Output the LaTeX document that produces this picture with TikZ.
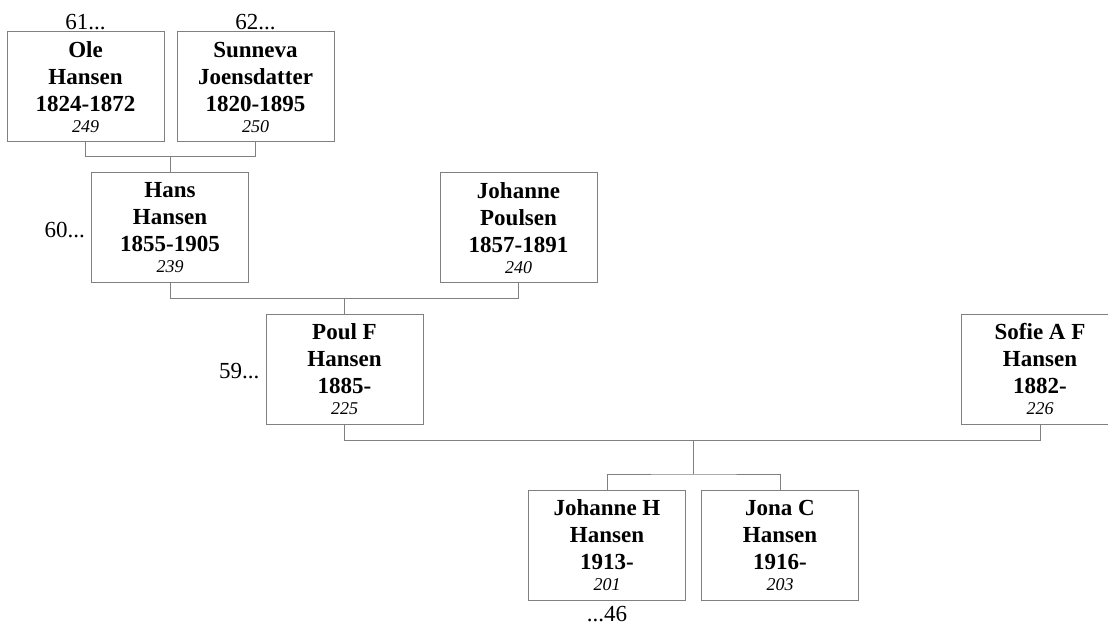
\documentclass[tikz,border=0pt]{standalone}
\usepackage{fontspec}
\setmainfont{Liberation Serif}
\usetikzlibrary{positioning,calc}
\definecolor{rammegraa}{HTML}{808080}
\tikzset{
  person/.style={draw=rammegraa, line width=1pt, minimum width=157pt, minimum height=110pt, inner sep=0pt, align=center, font=\fontsize{23}{27}\selectfont\bfseries},
  linje/.style={draw=rammegraa, line width=1pt},
  merke/.style={font=\fontsize{23}{27}\selectfont, inner sep=1pt},
}
\newcommand{\nr}[1]{\\[-6pt]{\fontsize{18}{21}\selectfont\mdseries\itshape #1}}

\begin{document}
\begin{tikzpicture}[x=1pt, y=-1pt]
  \useasboundingbox (0,0) rectangle (1108,628);
  % besteforeldre
  \node[person] (ole) at (85.5,87) {Ole\\Hansen\\1824-1872\nr{249}};
  \node[person] (sunneva) at (255.5,87) {Sunneva\\Joensdatter\\1820-1895\nr{250}};
  \node[merke, above=0pt of ole] (ole61) {61...};
  \node[merke, above=0pt of sunneva] (sun62) {62...};
  % foreldre
  \node[person] (hans) at (170,228) {Hans\\Hansen\\1855-1905\nr{239}};
  \node[person] (johanneP) at (518.5,228) {Johanne\\Poulsen\\1857-1891\nr{240}};
  \node[merke, left=5pt of hans, yshift=-2pt] (hans60) {60...};
  \node[person] (poul) at (344.5,369) {Poul F\\Hansen\\1885-\nr{225}};
  \node[person] (sofie) at (1040,369) {Sofie A F\\Hansen\\1882-\nr{226}};
  \node[merke, left=5pt of poul, yshift=-2pt] (poul59) {59...};
  % barn
  \node[person] (johanneH) at (607,545.5) {Johanne H\\Hansen\\1913-\nr{201}};
  \node[person] (jona) at (780,545.5) {Jona C\\Hansen\\1916-\nr{203}};
  \node[merke, below=4pt of johanneH] (joh46) {...46};
  % linjer
  \coordinate (j1) at ($(hans.north)+(0,16pt)$);
  \draw[linje] (ole.south) |- (j1) -| (sunneva.south);
  \draw[linje] (j1) -- (hans.north);
  \coordinate (j2) at ($(poul.north)+(0,15pt)$);
  \draw[linje] (hans.south) |- (j2) -| (johanneP.south);
  \draw[linje] (j2) -- (poul.north);
  \coordinate (j3) at ($(poul.south)+(0,-16pt)$);
  \coordinate (j4) at ($(johanneH.north)!0.5!(jona.north)+(0,16pt)$);
  \draw[linje] (poul.south) |- (j3) -| (sofie.south);
  \draw[linje] (j3 -| j4) -- (j4);
  \draw[linje] (johanneH.north) |- (j4) -| (jona.north);
\end{tikzpicture}
\end{document}
